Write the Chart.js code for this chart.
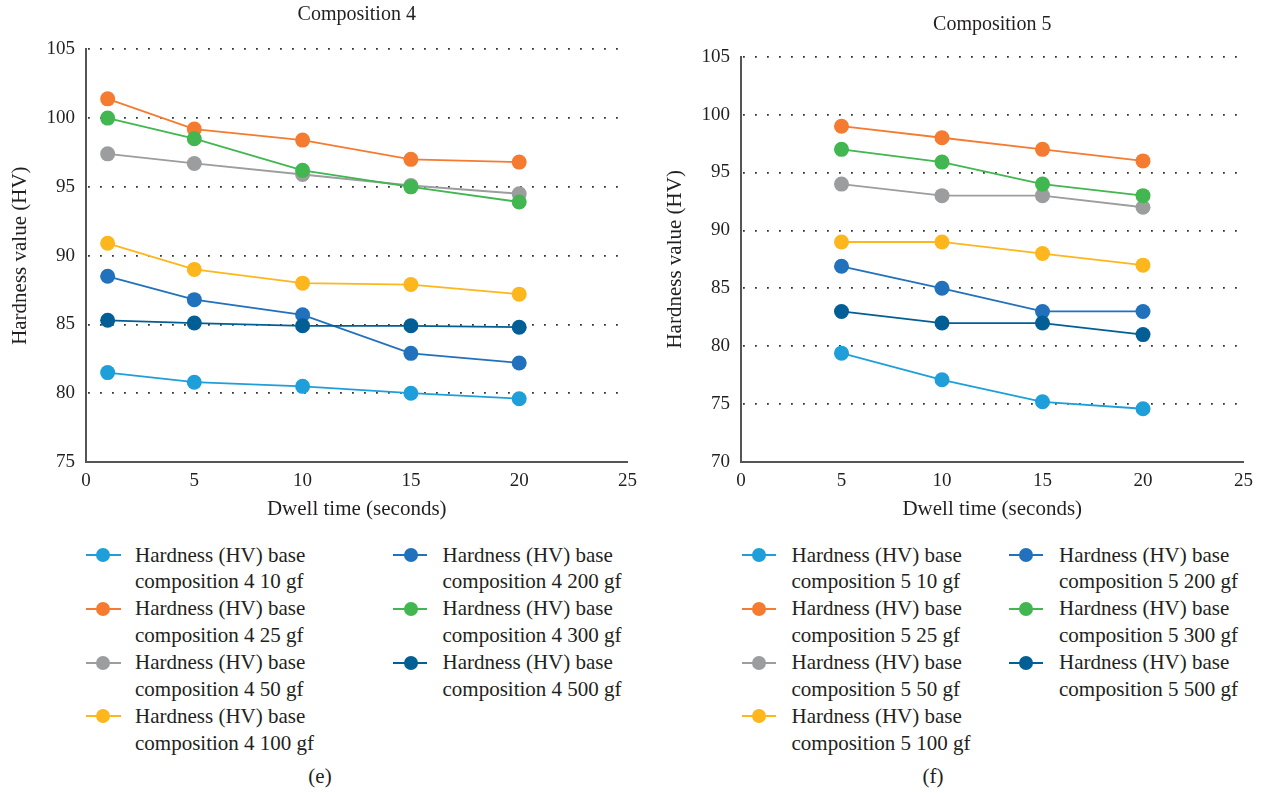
<!DOCTYPE html>
<html>
<head>
<meta charset="utf-8">
<title>Hardness vs dwell time</title>
<script src="https://cdn.jsdelivr.net/npm/chart.js@4.4.1/dist/chart.umd.min.js"></script>
<style>
  html, body { margin: 0; padding: 0; background: #fff; }
  body {
    position: relative; width: 1261px; height: 793px; overflow: hidden;
    font-family: "Liberation Serif", "Times New Roman", serif; color: #231f20;
  }
  canvas.plot { position: absolute; top: 0; }
  .item { position: absolute; font-size: 21px; line-height: 26.9px; white-space: nowrap; }
  .mk { position: absolute; height: 2px; }
  .dot { position: absolute; width: 14px; height: 14px; border-radius: 50%; }
  .cap { position: absolute; font-size: 21px; line-height: 24px; transform: translate(-50%, -50%); }
</style>
</head>
<body>
<canvas id="c4" class="plot" width="645" height="525" style="left:0px"></canvas>
<canvas id="c5" class="plot" width="606" height="525" style="left:655px"></canvas>
<div id="legends"></div>
<div class="cap" style="left:320px; top:776px">(e)</div>
<div class="cap" style="left:933px; top:776px">(f)</div>

<script>
// Dwell times (seconds) for each composition
const dwell4 = [1, 5, 10, 15, 20];
const dwell5 = [5, 10, 15, 20];

// Indentation loads and their series colours
const loads = ['10 gf', '25 gf', '50 gf', '100 gf', '200 gf', '300 gf', '500 gf'];
const colors = ['#1e9fda', '#f47b30', '#9b9d9e', '#fdb71c', '#2271bc', '#41b651', '#025f96'];

// Composition 4 hardness (HV)
const comp4_10gf  = [81.5, 80.8, 80.5, 80.0, 79.6];
const comp4_25gf  = [101.4, 99.2, 98.4, 97.0, 96.8];
const comp4_50gf  = [97.4, 96.7, 95.9, 95.1, 94.5];
const comp4_100gf = [90.9, 89.0, 88.0, 87.9, 87.2];
const comp4_200gf = [88.5, 86.8, 85.7, 82.9, 82.2];
const comp4_300gf = [100.0, 98.5, 96.2, 95.0, 93.9];
const comp4_500gf = [85.3, 85.1, 84.9, 84.9, 84.8];

// Composition 5 hardness (HV)
const comp5_10gf  = [79.4, 77.1, 75.2, 74.6];
const comp5_25gf  = [99.0, 98.0, 97.0, 96.0];
const comp5_50gf  = [94.0, 93.0, 93.0, 92.0];
const comp5_100gf = [89.0, 89.0, 88.0, 87.0];
const comp5_200gf = [86.9, 85.0, 83.0, 83.0];
const comp5_300gf = [97.0, 95.9, 94.0, 93.0];
const comp5_500gf = [83.0, 82.0, 82.0, 81.0];

// Axis ranges
const yRange4 = [75, 105];
const yRange5 = [70, 105];
const xRange = [0, 25];
const tickStep = 5;

const comp4 = [comp4_10gf, comp4_25gf, comp4_50gf, comp4_100gf, comp4_200gf, comp4_300gf, comp4_500gf];
const comp5 = [comp5_10gf, comp5_25gf, comp5_50gf, comp5_100gf, comp5_200gf, comp5_300gf, comp5_500gf];

const FONT = '"Liberation Serif", "Times New Roman", serif';
const INK = '#231f20';
Chart.defaults.font.family = FONT;
Chart.defaults.color = INK;

function makeChart(id, title, compNo, xs, series, yRange, titlePad) {
  const datasets = series.map((vals, i) => ({
    label: 'Hardness (HV) base composition ' + compNo + ' ' + loads[i],
    data: xs.map((x, k) => ({ x: x, y: vals[k] })),
    borderColor: colors[i],
    backgroundColor: colors[i],
    pointBackgroundColor: colors[i],
    pointBorderColor: colors[i],
    borderWidth: 1.8,
    pointRadius: 7.5,
    pointBorderWidth: 0,
    pointHoverRadius: 7.5,
    order: series.length - 1 - i
  }));
  return new Chart(document.getElementById(id), {
    type: 'line',
    data: { datasets },
    options: {
      responsive: false,
      animation: false,
      devicePixelRatio: 1,
      layout: { padding: { left: 0, right: 17, top: 0, bottom: 0 } },
      plugins: {
        legend: { display: false },
        tooltip: { enabled: false },
        title: {
          display: true, text: title, fullSize: false,
          color: INK, font: { size: 20, weight: 'normal', family: FONT },
          padding: titlePad
        }
      },
      scales: {
        x: {
          type: 'linear', min: xRange[0], max: xRange[1],
          afterFit: s => { s.height = 63; },
          grid: { display: false, drawTicks: false },
          border: { display: true, color: '#555555', width: 2 },
          ticks: { stepSize: tickStep, padding: 8, font: { size: 19 }, color: INK },
          title: {
            display: true, text: 'Dwell time (seconds)', color: INK,
            font: { size: 21, family: FONT }, padding: { top: 0, bottom: 2.5 }
          }
        },
        y: {
          type: 'linear', min: yRange[0], max: yRange[1],
          afterFit: s => { s.width = 86; },
          grid: {
            drawTicks: false, lineWidth: 1.8,
            color: c => (c.tick && c.tick.value === yRange[0]) ? 'rgba(0,0,0,0)' : '#333333'
          },
          border: { display: true, color: '#555555', width: 2, dash: [1.8, 10.2], dashOffset: -1 },
          ticks: { stepSize: tickStep, padding: 11, font: { size: 19 }, color: INK },
          title: {
            display: true, text: 'Hardness value (HV)', color: INK,
            font: { size: 21, family: FONT }, padding: { top: 7.5, bottom: 0 }
          }
        }
      }
    }
  });
}

makeChart('c4', 'Composition 4', 4, dwell4, comp4, yRange4, { top: 3, bottom: 22.3 });
makeChart('c5', 'Composition 5', 5, dwell5, comp5, yRange5, { top: 13, bottom: 19.7 });

// HTML legends: two columns, filled column by column
function buildLegend(compNo, cols) {
  const host = document.getElementById('legends');
  const rowTop = 555, pitch = 53.8;
  loads.forEach((ld, i) => {
    const col = i < 4 ? cols[0] : cols[1];
    const row = i < 4 ? i : i - 4;
    const cy = rowTop + row * pitch;
    const line = document.createElement('div');
    line.className = 'mk';
    line.style.left = col.lineL + 'px';
    line.style.width = (col.lineR - col.lineL) + 'px';
    line.style.top = (cy - 1) + 'px';
    line.style.background = colors[i];
    host.appendChild(line);
    const dot = document.createElement('div');
    dot.className = 'dot';
    dot.style.left = (col.dotX - 7) + 'px';
    dot.style.top = (cy - 7) + 'px';
    dot.style.background = colors[i];
    host.appendChild(dot);
    const txt = document.createElement('div');
    txt.className = 'item';
    txt.style.left = col.textX + 'px';
    txt.style.top = (cy - 13.45) + 'px';
    txt.innerHTML = 'Hardness (HV) base<br>composition ' + compNo + ' ' + ld;
    host.appendChild(txt);
  });
}

buildLegend(4, [
  { lineL: 86, lineR: 121, dotX: 103, textX: 135 },
  { lineL: 393, lineR: 427, dotX: 410.5, textX: 442.5 }
]);
buildLegend(5, [
  { lineL: 742, lineR: 776, dotX: 759, textX: 791.5 },
  { lineL: 1009, lineR: 1043, dotX: 1026, textX: 1059 }
]);
</script>
</body>
</html>
